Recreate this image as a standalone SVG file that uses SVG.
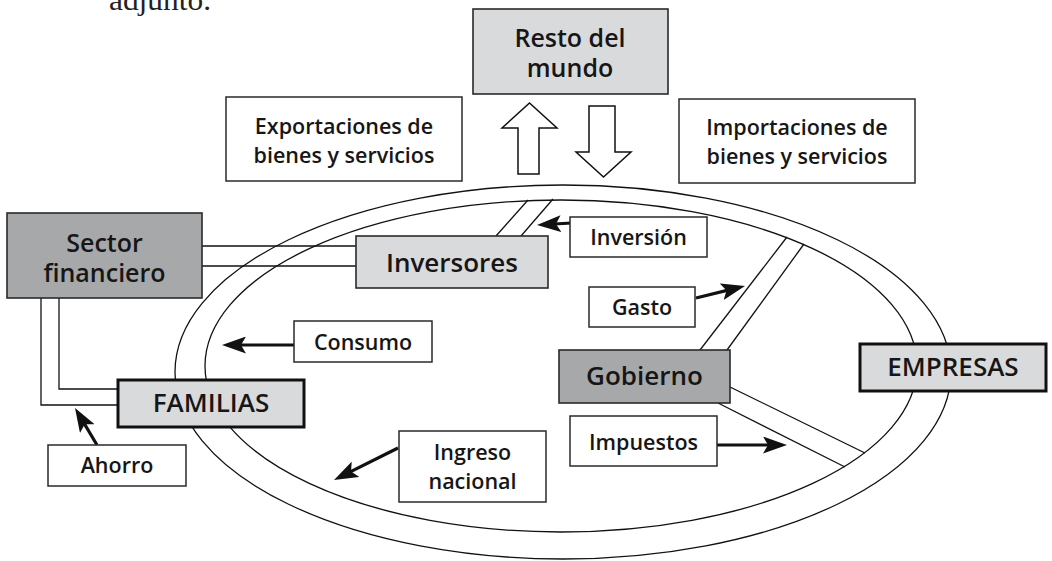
<svg xmlns="http://www.w3.org/2000/svg" width="1052" height="561" viewBox="0 0 1052 561">
<style>
  .bg{fill:#ffffff}
  .box{fill:#ffffff;stroke:#2a2a2a;stroke-width:1.5}
  .light{fill:#d9dadb;stroke:#2a2a2a;stroke-width:1.6}
  .dark{fill:#a7a8aa;stroke:#2a2a2a;stroke-width:1.6}
  .thick{fill:#d9dadb;stroke:#111111;stroke-width:3}
  .ring{fill:none;stroke:#111111;stroke-width:1.3}
  .ln{fill:none;stroke:#111111;stroke-width:1.3}
  .big{fill:#ffffff;stroke:#111111;stroke-width:1.5;stroke-linejoin:miter}
  .arr{fill:none;stroke:#111111;stroke-width:3.2}
  text{font-family:"Open Sans","Noto Sans","Liberation Sans",sans-serif;font-weight:600;fill:#161616;text-anchor:middle}
  .s{font-size:21.5px}
  .l{font-size:26px}
  .l2{font-size:25px}
  .serif{font-family:"Liberation Serif","DejaVu Serif",serif;font-weight:400;font-size:29px;text-anchor:start;fill:#222}
</style>
<defs>
  <marker id="ah" markerUnits="userSpaceOnUse" markerWidth="24" markerHeight="17" refX="16" refY="8.5" orient="auto" viewBox="0 0 24 17">
    <path d="M0,0 L24,8.5 L0,17 L5,8.5 Z" fill="#111111"/>
  </marker>
</defs>
<rect class="bg" x="0" y="0" width="1052" height="561"/>
<text class="serif" x="109" y="10" textLength="102" lengthAdjust="spacingAndGlyphs">adjunto.</text>

<g id="connectors">
  <ellipse class="ring" cx="563" cy="372" rx="388" ry="187"/>
  <ellipse class="ring" cx="561" cy="366" rx="356" ry="166"/>
  <line class="ln" x1="202" y1="246" x2="356" y2="246"/>
  <line class="ln" x1="202" y1="266" x2="356" y2="266"/>
  <path class="ln" d="M41,298 V405 H118"/>
  <path class="ln" d="M59,298 V389 H118"/>
  <line class="ln" x1="496" y1="236" x2="528" y2="200"/>
  <line class="ln" x1="521" y1="236" x2="553" y2="199"/>
  <line class="ln" x1="700" y1="350" x2="787" y2="237"/>
  <line class="ln" x1="727" y1="350" x2="804" y2="244"/>
  <line class="ln" x1="730" y1="387" x2="865" y2="453"/>
  <line class="ln" x1="718" y1="403" x2="845" y2="467"/>
  <polygon class="big" points="518,174 539,174 539,128 557,128 529.5,103 502,128 518,128"/>
  <polygon class="big" points="589,106 615,106 615,152 631,152 603.5,177 576,152 589,152"/>
  <line class="arr" x1="572" y1="223" x2="545" y2="224.5" marker-end="url(#ah)"/>
  <line class="arr" x1="696" y1="298" x2="737.2" y2="287.9" marker-end="url(#ah)"/>
  <line class="arr" x1="294" y1="345" x2="230" y2="345" marker-end="url(#ah)"/>
  <line class="arr" x1="97" y1="445" x2="79.1" y2="414.9" marker-end="url(#ah)"/>
  <line class="arr" x1="398" y1="448" x2="341.2" y2="476.4" marker-end="url(#ah)"/>
  <line class="arr" x1="717" y1="445" x2="779" y2="445" marker-end="url(#ah)"/>
</g>

<g id="resto-del-mundo">
  <rect class="light" x="473" y="9" width="195" height="85"/>
  <text class="l2" x="570" y="47">Resto del</text>
  <text class="l2" x="570" y="77">mundo</text>
</g>
<g id="exportaciones">
  <rect class="box" x="226" y="97" width="236" height="84"/>
  <text class="s" x="344" y="134">Exportaciones de</text>
  <text class="s" x="344" y="163">bienes y servicios</text>
</g>
<g id="importaciones">
  <rect class="box" x="679" y="99" width="236" height="84"/>
  <text class="s" x="797" y="135">Importaciones de</text>
  <text class="s" x="797" y="164">bienes y servicios</text>
</g>
<g id="sector-financiero">
  <rect class="dark" x="7" y="213" width="195" height="85"/>
  <text class="l2" x="104.5" y="252">Sector</text>
  <text class="l2" x="104.5" y="282">financiero</text>
</g>
<g id="inversores">
  <rect class="light" x="356" y="236" width="192" height="52"/>
  <text class="l" x="452" y="272">Inversores</text>
</g>
<g id="inversion">
  <rect class="box" x="570" y="217" width="137" height="40"/>
  <text class="s" x="638.5" y="245">Inversión</text>
</g>
<g id="gasto">
  <rect class="box" x="589" y="287" width="106" height="40"/>
  <text class="s" x="642" y="315">Gasto</text>
</g>
<g id="consumo">
  <rect class="box" x="294" y="321" width="138" height="41"/>
  <text class="s" x="363" y="350">Consumo</text>
</g>
<g id="gobierno">
  <rect class="dark" x="559" y="350" width="171" height="53"/>
  <text class="l" x="644.5" y="385">Gobierno</text>
</g>
<g id="empresas">
  <rect class="thick" x="860" y="344" width="186" height="47"/>
  <text class="l" x="953" y="376">EMPRESAS</text>
</g>
<g id="familias">
  <rect class="thick" x="118" y="380" width="186" height="47"/>
  <text class="l" x="211" y="412">FAMILIAS</text>
</g>
<g id="ahorro">
  <rect class="box" x="48" y="445" width="138" height="41"/>
  <text class="s" x="117" y="473">Ahorro</text>
</g>
<g id="ingreso-nacional">
  <rect class="box" x="399" y="431" width="147" height="71"/>
  <text class="s" x="472.5" y="460">Ingreso</text>
  <text class="s" x="472.5" y="489">nacional</text>
</g>
<g id="impuestos">
  <rect class="box" x="570" y="416" width="147" height="50"/>
  <text class="s" x="643.5" y="450">Impuestos</text>
</g>
</svg>
